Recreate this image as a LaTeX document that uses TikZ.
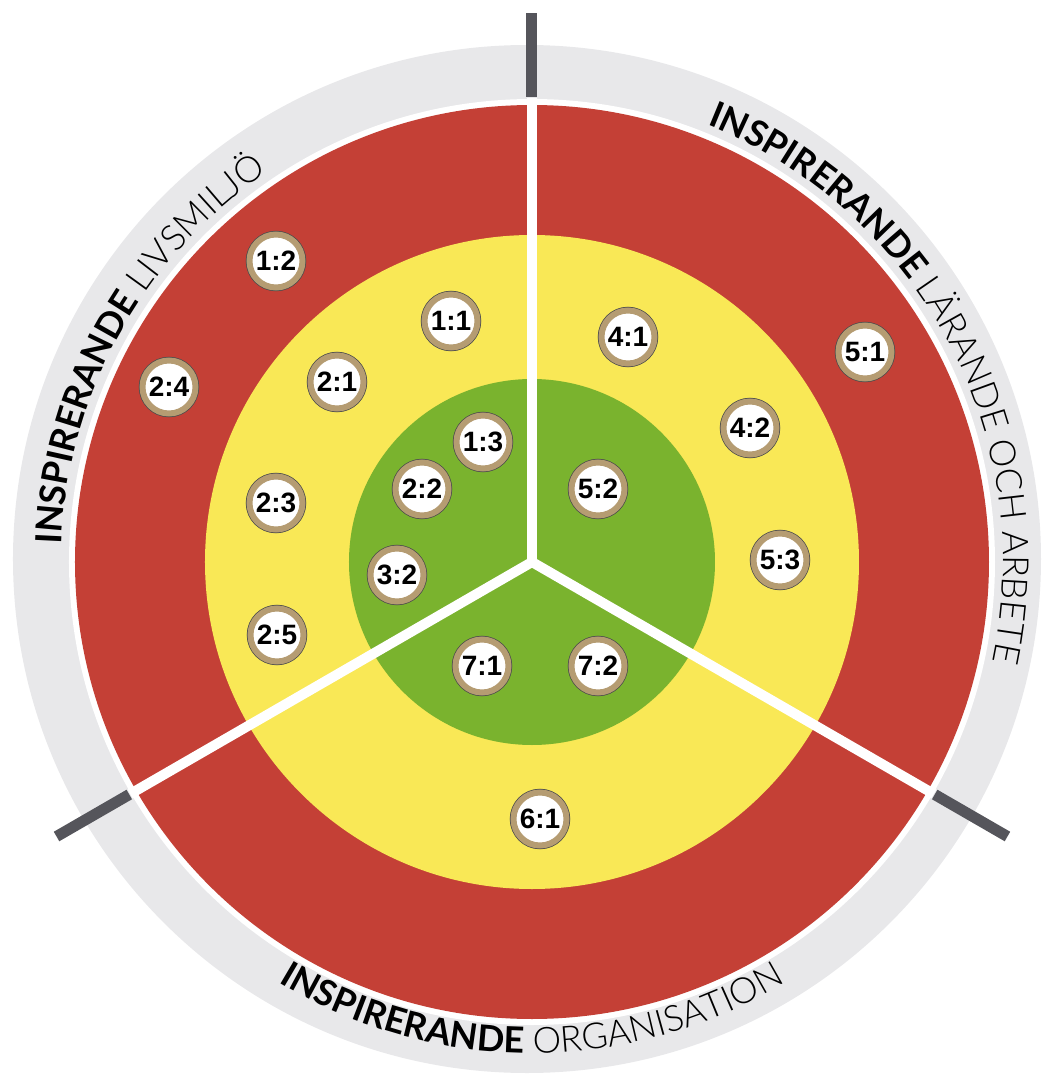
\documentclass[tikz,border=0pt]{standalone}
\usepackage{fontspec}
\setmainfont{Liberation Sans}
\newfontfamily\ringfont{Lato}
\newfontfamily\ringlightfont{Lato Light}
\usepackage{tikz}
\usetikzlibrary{decorations.text}
\definecolor{ringred}{RGB}{196,64,54}
\definecolor{ringyellow}{RGB}{249,232,86}
\definecolor{ringgreen}{RGB}{122,179,46}
\definecolor{bandgray}{RGB}{232,232,234}
\definecolor{tickgray}{RGB}{85,85,91}
\definecolor{badgetan}{RGB}{181,156,114}
\newcommand\boldlab{\ringfont\bfseries\fontsize{36}{36}\selectfont}
\newcommand\lightlab{\ringlightfont\fontsize{36}{36}\selectfont}
\tikzset{
  badge/.style={circle, minimum size=53pt, inner sep=0pt, fill=white,
    draw=badgetan, line width=6pt,
    preaction={draw=black!70, line width=7.5pt},
    font=\fontsize{28}{28}\selectfont\bfseries},
  divider/.style={white, line width=10pt},
  tickmark/.style={tickgray, line width=11pt},
  ringlabel/.style={decorate, decoration={text along path, text align=center, text={#1}}},
}

\begin{document}
\begin{tikzpicture}[x=1pt,y=1pt]
  \useasboundingbox (-532,-515) rectangle (513,562);
  \coordinate (c) at (0,0);
  \fill[bandgray] (-5,3) circle (514);
  \fill[white] (c) circle (463);
  \fill[ringred] (c) circle (457);
  \fill[ringyellow] (c) circle (327);
  \fill[ringgreen] (c) circle (183);
  \foreach \a in {90,210,330}{
    \draw[divider] (c) -- (\a:464);
    \draw[tickmark] (\a:465) -- (\a:549);
  }
  \path[ringlabel={|\boldlab|INSPIRERANDE |\lightlab|LIVSMILJÖ}]
    (201:471) arc[start angle=201, end angle=101, radius=471];
  \path[ringlabel={|\boldlab|INSPIRERANDE |\lightlab|LÄRANDE OCH ARBETE}]
    (78:471) arc[start angle=78, end angle=-22, radius=471];
  \path[ringlabel={|\boldlab|INSPIRERANDE |\lightlab|ORGANISATION}]
    (220:491) arc[start angle=220, end angle=320, radius=491];
  \foreach \x/\y/\nm/\lab in {
      -256/301/b12/1:2, -81/241/b11/1:1, -363/175/b24/2:4,
      -195/180/b21/2:1, -49/120/b13/1:3, -110/73/b22/2:2,
      -256/59/b23/2:3, -135/-13/b32/3:2, -255/-73/b25/2:5,
      -50/-104/b71/7:1, 66/-104/b72/7:2, 8/-257/b61/6:1,
      96/225/b41/4:1, 333/210/b51/5:1, 218/134/b42/4:2,
      66/73/b52/5:2, 248/2/b53/5:3}
    \node[badge] (\nm) at (\x,\y) {\lab};
\end{tikzpicture}
\end{document}
